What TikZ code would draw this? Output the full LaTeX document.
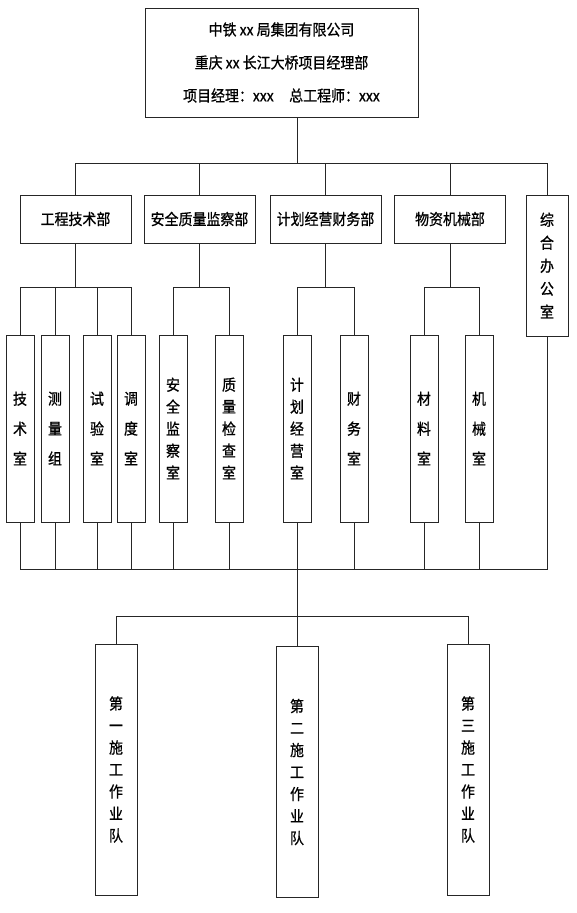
\documentclass[tikz,border=0pt]{standalone}
\usepackage{fontspec}
\setmainfont{Noto Sans CJK SC}[FakeStretch=0.9, FakeBold=0.8]
\usetikzlibrary{positioning,calc}

\begin{document}
\begin{tikzpicture}[
    x=1pt, y=-1pt,
    line width=0.8pt,
    chartbox/.style={draw=black!85, line width=0.8pt, inner sep=0pt, align=center, fill=white},
    deptbox/.style={chartbox, minimum width=111pt, minimum height=48pt, font=\fontsize{15.5}{18}\selectfont},
    roombox/.style={chartbox, minimum width=28pt, minimum height=187pt, font=\fontsize{15.5}{30}\selectfont},
    longroom/.style={roombox, font=\fontsize{15.5}{22}\selectfont},
    teambox/.style={chartbox, minimum width=42pt, minimum height=251pt, font=\fontsize{15.5}{22}\selectfont},
    link/.style={draw=black!85, line width=0.8pt}
  ]

\useasboundingbox (0,0) rectangle (577,913);

% top
\node[
    chartbox,
    minimum width=273pt,
    minimum height=109pt,
    font=\fontsize{15.5}{33}\selectfont
  ] (HQ) at (281.5, 62.5) {中铁 xx 局集团有限公司\\重庆 xx 长江大桥项目经理部\\项目经理：xxx\quad 总工程师：xxx};

% departments
\node[deptbox] (D1) at (75.5, 219) {工程技术部};
\node[deptbox] (D2) at (199.5, 219) {安全质量监察部};
\node[deptbox] (D3) at (325.5, 219) {计划经营财务部};
\node[deptbox] (D4) at (450, 219) {物资机械部};
\node[
    chartbox,
    minimum width=42pt,
    minimum height=141pt,
    font=\fontsize{15.5}{23}\selectfont
  ] (D5) at (547, 265.5) {综\\合\\办\\公\\室};

% rooms
\node[roombox] (R1) at (20, 428.5) {技\\术\\室};
\node[roombox] (R2) at (55, 428.5) {测\\量\\组};
\node[roombox] (R3) at (97, 428.5) {试\\验\\室};
\node[roombox] (R4) at (131, 428.5) {调\\度\\室};
\node[longroom] (R5) at (173, 428.5) {安\\全\\监\\察\\室};
\node[longroom] (R6) at (229, 428.5) {质\\量\\检\\查\\室};
\node[longroom] (R7) at (297, 428.5) {计\\划\\经\\营\\室};
\node[roombox] (R8) at (354, 428.5) {财\\务\\室};
\node[roombox] (R9) at (424, 428.5) {材\\料\\室};
\node[roombox] (R10) at (479, 428.5) {机\\械\\室};

% teams
\node[teambox] (T1) at (116, 769.5) {第\\一\\施\\工\\作\\业\\队};
\node[teambox] (T2) at (297, 772) {第\\二\\施\\工\\作\\业\\队};
\node[teambox] (T3) at (468, 769.5) {第\\三\\施\\工\\作\\业\\队};

% bus levels
\coordinate (B1) at (0, 163);
\coordinate (B2) at (0, 287);
\coordinate (B3) at (0, 569);
\coordinate (B4) at (0, 616);

% top to departments
\draw[link] (HQ.south -| T2.north) -- (B1 -| T2.north);
\draw[link] (D1.north) -- (D1.north |- B1) -- (D5.north |- B1) -- (D5.north);
\foreach \d in {D2,D3,D4}
  \draw[link] (\d.north) -- (\d.north |- B1);

% departments to rooms
\draw[link] (R1.north) -- (R1.north |- B2) -- (R4.north |- B2) -- (R4.north);
\draw[link] (R5.north) -- (R5.north |- B2) -- (R6.north |- B2) -- (R6.north);
\draw[link] (R7.north) -- (R7.north |- B2) -- (R8.north |- B2) -- (R8.north);
\draw[link] (R9.north) -- (R9.north |- B2) -- (R10.north |- B2) -- (R10.north);
\foreach \r in {R2,R3}
  \draw[link] (\r.north) -- (\r.north |- B2);
\foreach \d in {D1,D2,D3,D4}
  \draw[link] (\d.south) -- (\d.south |- B2);

% rooms to bottom bus
\draw[link] (R1.south) -- (R1.south |- B3) -- (D5.south |- B3) -- (D5.south);
\foreach \r in {R2,R3,R4,R5,R6,R8,R9,R10}
  \draw[link] (\r.south) -- (\r.south |- B3);
\draw[link] (R7.south) -- (T2.north);

% teams
\draw[link] (T1.north) -- (T1.north |- B4) -- (T3.north |- B4) -- (T3.north);

\end{tikzpicture}
\end{document}
